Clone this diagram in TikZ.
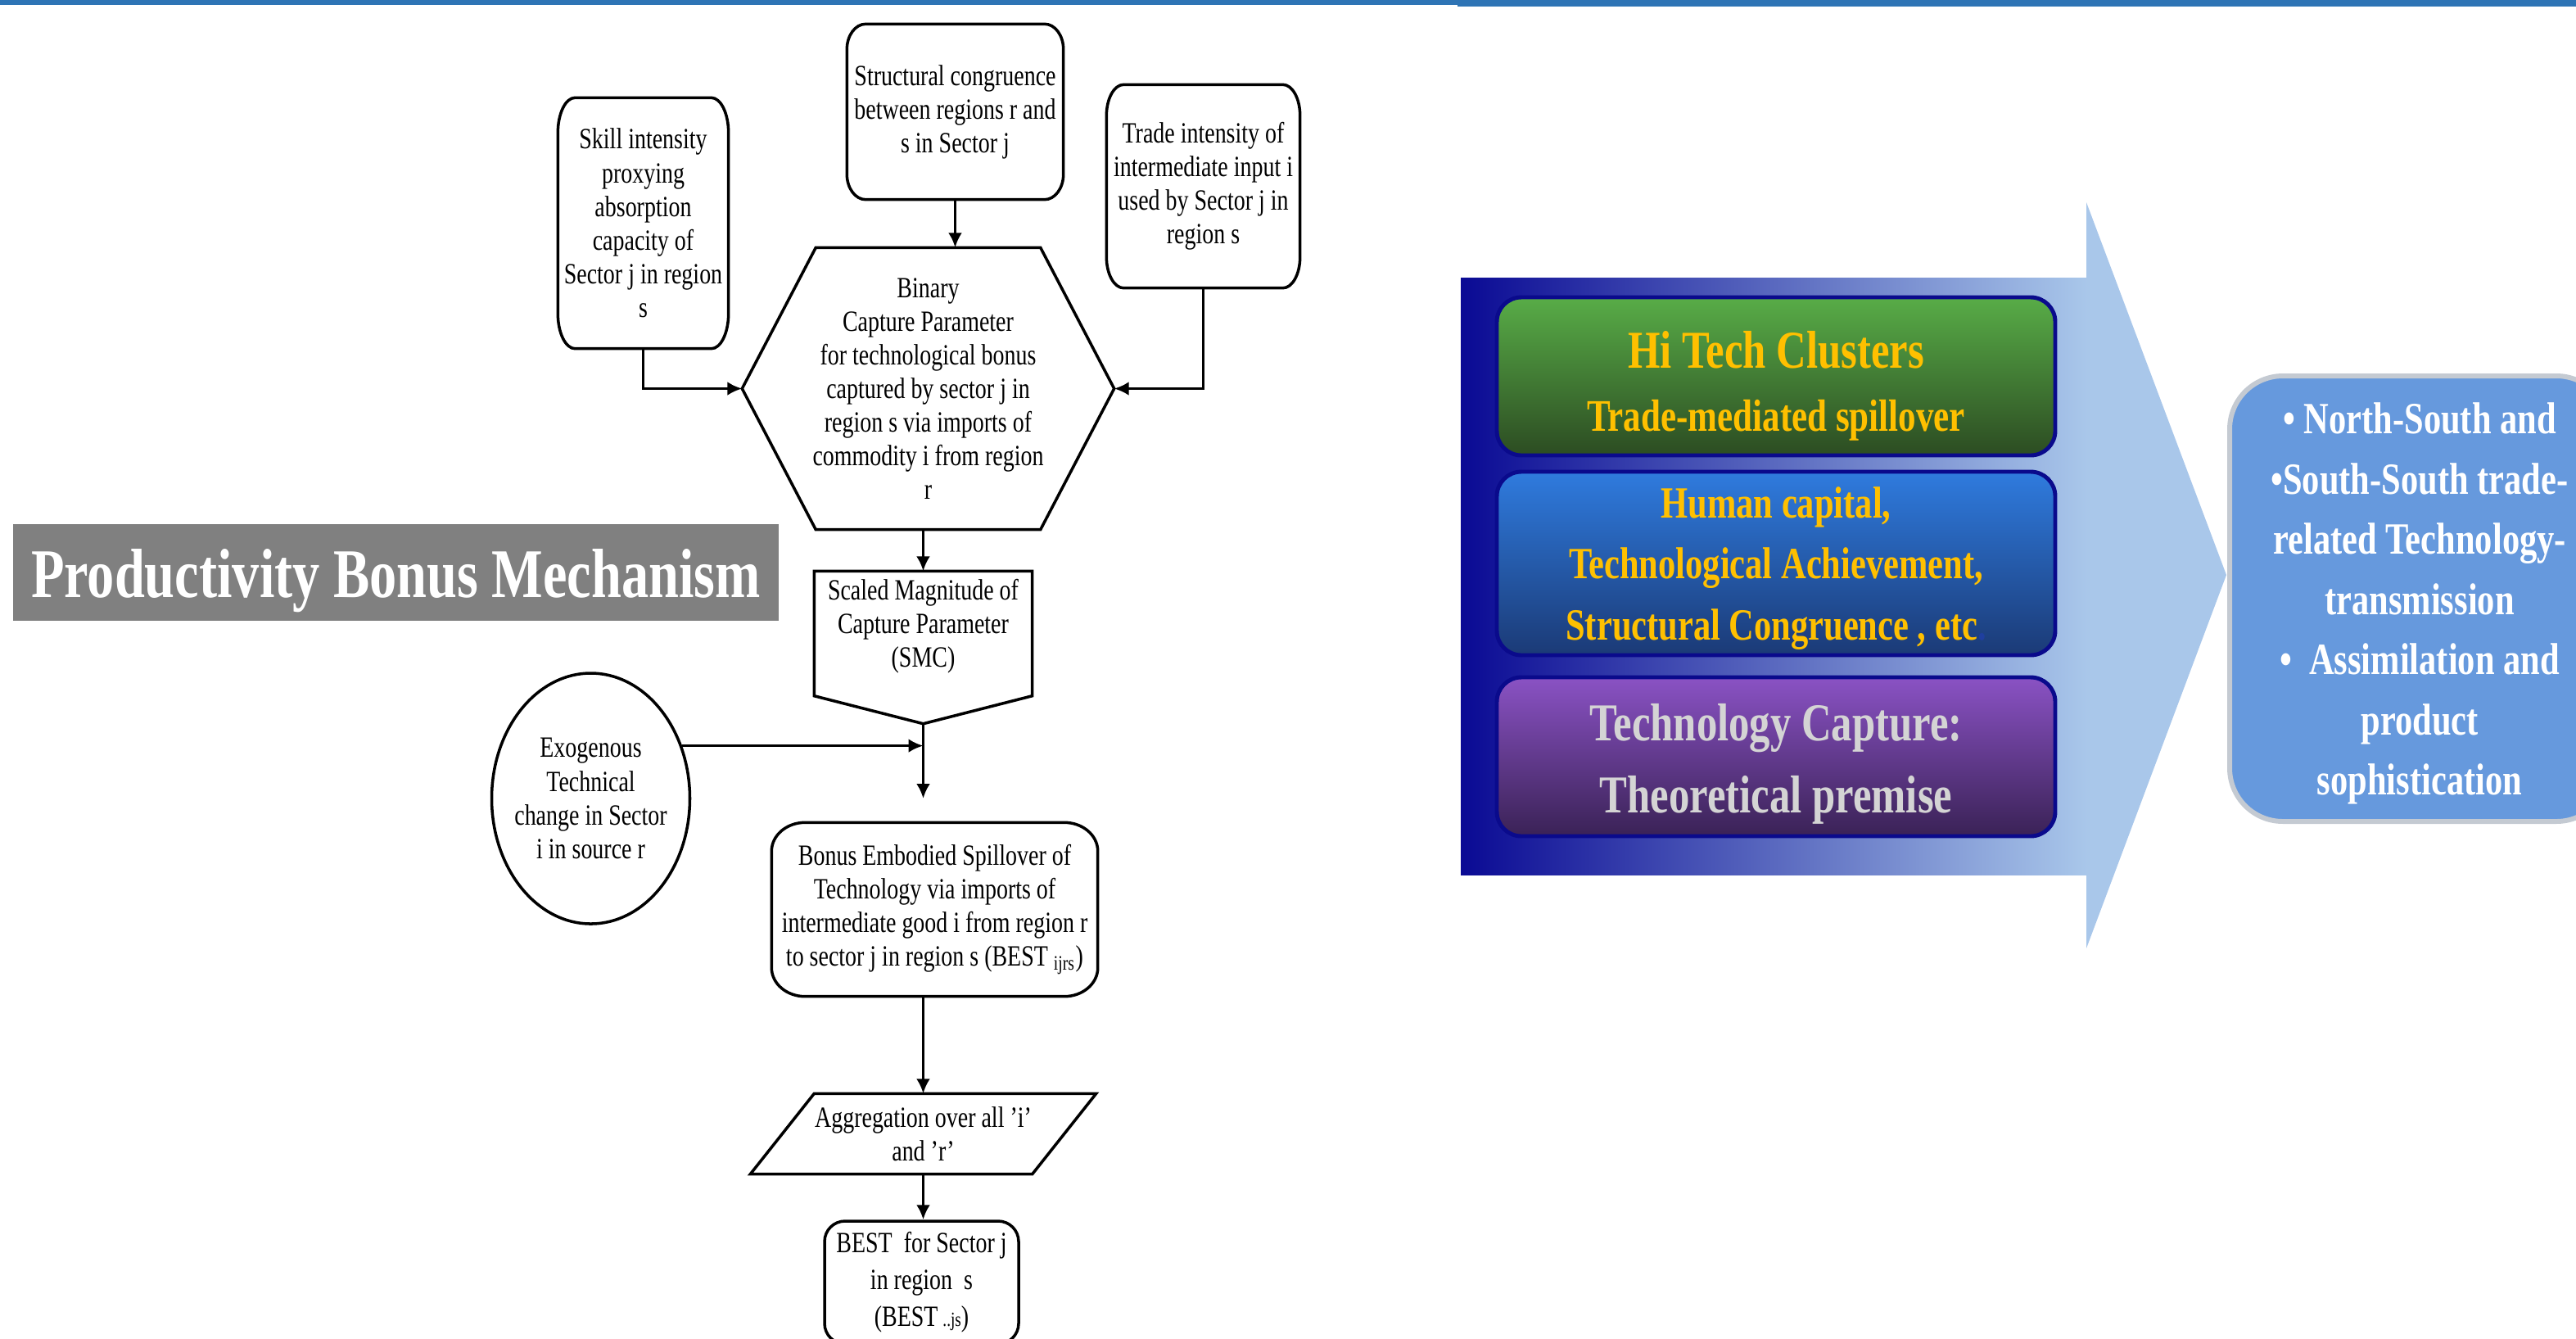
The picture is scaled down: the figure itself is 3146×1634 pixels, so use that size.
\documentclass[tikz,border=0pt]{standalone}
\usepackage{fontspec}
\setmainfont{Liberation Serif}[FakeStretch=0.78]
\usetikzlibrary{shapes.geometric, arrows.meta}
\definecolor{topblue}{HTML}{2E74B5}
\definecolor{titlegray}{HTML}{808080}
\definecolor{arrowdark}{HTML}{0A0A94}
\definecolor{arrowmid}{HTML}{8499CD}
\definecolor{arrowlight}{HTML}{A9C7EA}
\definecolor{boxnavy}{HTML}{0A0A8C}
\definecolor{greentop}{HTML}{58AC47}
\definecolor{greenbot}{HTML}{2C4C22}
\definecolor{bluetop}{HTML}{2F7BDE}
\definecolor{bluebot}{HTML}{1B3A76}
\definecolor{purpletop}{HTML}{8A52C4}
\definecolor{purplebot}{HTML}{3A2256}
\definecolor{goldtext}{HTML}{FFC000}
\definecolor{greytext}{HTML}{D4D4D4}
\definecolor{etcblue}{HTML}{1F3F9F}
\definecolor{sideblue}{HTML}{6699DD}
\definecolor{sideedge}{HTML}{C4CAD2}
\newcommand{\ovalframe}[3]{%
  \draw[flowline] ([xshift=#2]#1.north west) -- ([xshift=-#2]#1.north east)
    arc[start angle=90, end angle=0, x radius=#2, y radius=#3]
    -- ([yshift=#3]#1.south east)
    arc[start angle=0, end angle=-90, x radius=#2, y radius=#3]
    -- ([xshift=#2]#1.south west)
    arc[start angle=-90, end angle=-180, x radius=#2, y radius=#3]
    -- ([yshift=-#3]#1.north west)
    arc[start angle=180, end angle=90, x radius=#2, y radius=#3] -- cycle;}

\begin{document}
\begin{tikzpicture}[x=0.1mm, y=-0.1mm,
    flowtext/.style={font=\fontsize{10.2}{11.7}\selectfont, align=center, inner sep=0pt},
    flowline/.style={line width=1pt},
    flowarrow/.style={line width=1pt, -{Latex[length=1.8mm, width=1.7mm]}},
    techbox/.style={draw=boxnavy, line width=1.4pt, rounded corners=3mm, minimum width=68.2mm, inner sep=0pt},
    techlabel/.style={align=center, inner sep=0pt}]
  \useasboundingbox (0,0) rectangle (3146,1634);
  \fill[topblue] (0,0) rectangle (1780,6);
  \fill[topblue] (1780,0) rectangle (3146,8);

  \node[fill=titlegray, minimum width=93.5mm, minimum height=11.8mm, inner sep=0pt,
    label={[text=white, yshift=-1mm, font=\bfseries\fontsize{24.2}{28}\selectfont]center:Productivity Bonus Mechanism}] (title) at (483.5,699) {};

  \node[flowtext, minimum width=20.7mm, minimum height=30.5mm] (skill) at (785.5,272.5)
    {Skill intensity\\proxying\\absorption\\capacity of\\Sector j in region\\s};
  \node[flowtext, minimum width=26.3mm, minimum height=21.3mm] (struct) at (1166.5,136.5)
    {Structural congruence\\between regions r and\\s in Sector j};
  \node[flowtext, minimum width=23.5mm, minimum height=24.7mm] (trade) at (1469.5,227.5)
    {Trade intensity of\\intermediate input i\\used by Sector j in\\region s};
  \node[flowtext, minimum width=45.3mm, minimum height=34.3mm] (hex) at (1133.5,474.5)
    {Binary\\Capture Parameter\\for technological bonus\\captured by sector j in\\region s via imports of\\commodity i from region\\r};
  \node[flowtext, minimum width=26.5mm, minimum height=15.1mm,
    label={[flowtext, yshift=0.9mm]center:Scaled Magnitude of\\Capture Parameter\\(SMC)}] (smc) at (1127.5,773.5) {};
  \node[ellipse, draw, flowline, minimum width=24.2mm, minimum height=30.6mm,
    label={[flowtext]center:Exogenous\\Technical\\change in Sector\\i in source r}] (exo) at (721.5,975) {};
  \node[flowtext, minimum width=39.7mm, minimum height=21.1mm] (bonus) at (1141.5,1110.5)
    {Bonus Embodied Spillover of\\Technology via imports of\\intermediate good i from region r\\to sector j in region s (BEST \textsubscript{ijrs})};
  \node[flowtext, minimum width=34.3mm, minimum height=9.7mm] (para) at (1127.5,1384.5)
    {Aggregation over all 'i'\\and 'r'};
  \node[flowtext, draw, flowline, rounded corners=2.5mm, minimum width=23.7mm, minimum height=15mm,
    font=\fontsize{10.2}{12.8}\selectfont] (best) at (1125.5,1566)
    {BEST~ for Sector j\\in region~ s\\(BEST\,{\scriptsize ..js})};

  \ovalframe{skill}{2.1mm}{4.3mm}
  \ovalframe{struct}{2.3mm}{3.1mm}
  \ovalframe{trade}{2.1mm}{3.8mm}
  \ovalframe{bonus}{4.1mm}{3.5mm}
  \draw[flowline] (hex.west) -- ([xshift=9mm]hex.north west) -- ([xshift=-9mm]hex.north east) -- (hex.east)
    -- ([xshift=-9mm]hex.south east) -- ([xshift=9mm]hex.south west) -- cycle;
  \coordinate (smctip) at ([yshift=-3.4mm]smc.south);
  \draw[flowline] (smc.north west) -- (smc.north east) -- (smc.south east) -- (smctip) -- (smc.south west) -- cycle;
  \draw[flowline] ([xshift=3.9mm]para.north west) -- ([xshift=3.9mm]para.north east)
    -- ([xshift=-3.9mm]para.south east) -- ([xshift=-3.9mm]para.south west) -- cycle;
  \coordinate (spineend) at (1127.5,975);

  \draw[flowarrow] (struct.south) -- (struct.south |- hex.north);
  \draw[flowarrow] (skill.south) |- (hex.west);
  \draw[flowarrow] (trade.south) |- (hex.east);
  \draw[flowarrow] (hex.south -| smc.north) -- (smc.north);
  \draw[flowarrow] (smctip) -- (spineend);
  \draw[flowarrow] (exo.30) -- (exo.30 -| smctip);
  \draw[flowarrow] (bonus.south -| para.north) -- (para.north);
  \draw[flowarrow] (para.south) -- (para.south |- best.north);

  \fill[left color=arrowdark, middle color=arrowmid, right color=arrowlight] (1784,339) rectangle (2548,1068);
  \fill[arrowlight] (2548,247) -- (2719,702) -- (2548,1158) -- cycle;
  \node[techbox, top color=greentop, bottom color=greenbot, minimum height=19.3mm,
    label={[techlabel, yshift=-1.2mm, text=goldtext, font=\bfseries\fontsize{15.7}{22}\selectfont]center:{{\fontsize{18.5}{22}\selectfont Hi Tech Clusters}\\Trade-mediated spillover}}] (hitech) at (2169,459.5) {};
  \node[techbox, top color=bluetop, bottom color=bluebot, minimum height=22.4mm,
    label={[techlabel, yshift=-0.6mm, text=goldtext, font=\bfseries\fontsize{15.5}{21.3}\selectfont]center:{Human capital,\\Technological Achievement,\\Structural Congruence , etc{\color{etcblue}.}}}] (humancap) at (2169,688) {};
  \node[techbox, top color=purpletop, bottom color=purplebot, minimum height=19.4mm,
    label={[techlabel, yshift=-0.9mm, text=greytext, font=\bfseries\fontsize{18.5}{25}\selectfont]center:{Technology Capture:\\Theoretical premise}}] (capture) at (2169,924) {};

  \node[draw=sideedge, line width=1.7pt, fill=sideblue, rounded corners=6.5mm, minimum width=46.4mm,
    minimum height=54.4mm, inner sep=0pt,
    label={[techlabel, yshift=-0.6mm, text=white, font=\bfseries\fontsize{15.5}{20.9}\selectfont]center:{\textbullet{} North-South and\\\textbullet South-South trade-\\related Technology-\\transmission\\\textbullet{}~ Assimilation and\\product\\sophistication}}] (outcome) at (2955,731) {};
\end{tikzpicture}
\end{document}
